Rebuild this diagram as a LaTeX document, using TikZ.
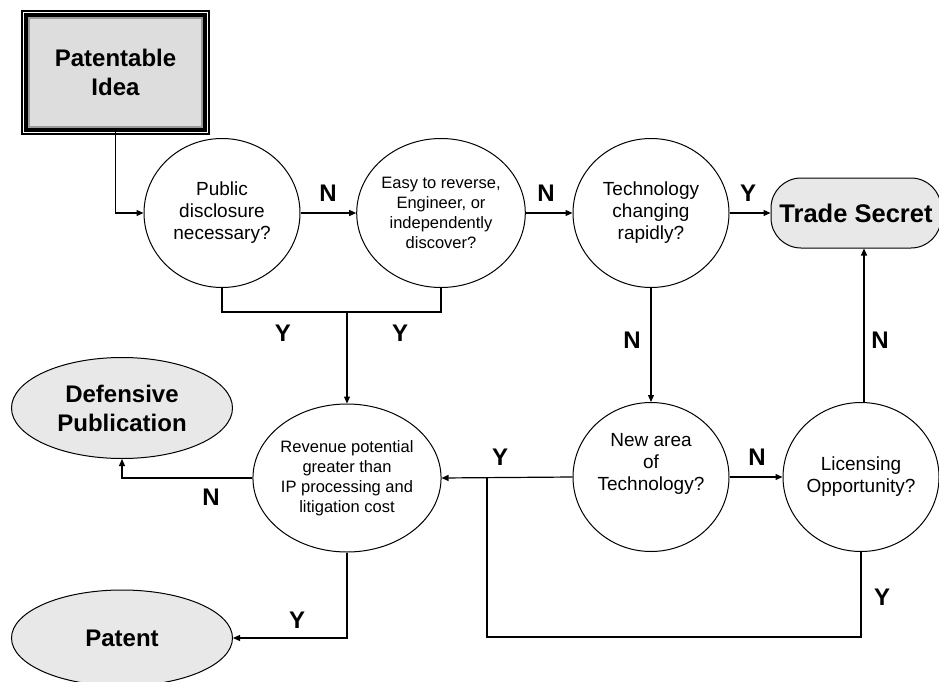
\documentclass[tikz,border=0pt]{standalone}
\usepackage{fontspec}
\setmainfont{Liberation Sans}
\usepackage{xcolor}
\definecolor{termfill}{HTML}{E8E8E8}
\definecolor{ideafill}{HTML}{DDDDDD}
\definecolor{ideaedge}{HTML}{9A9A9A}
\usepackage{tikz}
\usetikzlibrary{arrows.meta,positioning,calc,shapes.geometric}
\tikzset{
  >={Triangle[length=7pt,width=6pt]},
  dec/.style={ellipse,draw,line width=1pt,minimum width=156pt,minimum height=149pt,inner sep=0pt,align=center,font=\fontsize{19}{22}\selectfont},
  decs/.style={dec,font=\fontsize{16.5}{20}\selectfont},
  term/.style={ellipse,draw,fill=termfill,line width=1pt,minimum width=221pt,inner sep=0pt,align=center,font=\bfseries\fontsize{24}{29}\selectfont},
  secbox/.style={rectangle,rounded corners=30pt,draw,fill=termfill,line width=1pt,minimum width=170pt,minimum height=70pt,font=\bfseries\fontsize{25.5}{29}\selectfont},
  lab/.style={font=\bfseries\fontsize{24}{24}\selectfont},
  arr/.style={->,line width=1.2pt},
  ln/.style={line width=1.2pt},
}

\begin{document}
\begin{tikzpicture}[x=1pt,y=-1pt]
\useasboundingbox (0,0) rectangle (939,682);
% start box with triple frame
\node[rectangle,draw=ideaedge,fill=ideafill,line width=1.5pt,minimum width=173pt,minimum height=109pt,align=center,font=\bfseries\fontsize{24}{29}\selectfont] (idea) at (115.5,72.5) {Patentable\\Idea};
\draw[line width=3.3pt] ([xshift=-2.3pt,yshift=2.3pt]idea.north west) rectangle ([xshift=2.3pt,yshift=-2.3pt]idea.south east);
\draw[line width=2pt] ([xshift=-6.3pt,yshift=6.3pt]idea.north west) rectangle ([xshift=6.3pt,yshift=-6.3pt]idea.south east);
% decisions
\node[dec] (disc) at (222,213) {Public\\disclosure\\necessary?};
\node[decs] (easy) at (441,213) {Easy to reverse,\\Engineer, or\\independently\\discover?};
\node[dec] (tech) at (651,213) {Technology\\changing\\rapidly?};
\node[dec] (newarea) at (651,477) {New area\\of\\Technology?\\[8pt]};
\node[dec] (lic) at (861,477) {Licensing\\Opportunity?};
\node[decs,minimum width=157pt,minimum height=148pt] (rev) at (347,478) {Revenue potential\\greater than\\IP processing and\\litigation cost};
% outcomes
\node[secbox] (secret) at (856,213) {Trade Secret};
\node[term,minimum height=101pt] (defpub) at (122,408) {Defensive\\Publication};
\node[term,minimum height=96pt] (patent) at (122,638) {Patent};
% helper points
\coordinate (jn) at (347,312);
\coordinate (lq) at (487,478);
% connectors
\draw[arr] (idea.south) |- (disc.west);
\draw[arr] (disc) -- (easy);
\draw[arr] (easy) -- (tech);
\draw[arr] (tech) -- (secret);
\draw[ln] (disc.south) |- (jn) -| (easy.south);
\draw[arr] (jn) -- (rev.north);
\draw[arr] (tech.south) -- (newarea.north);
\draw[arr] ([xshift=3pt]lic.north) -- ([xshift=3pt]lic.north |- secret.south);
\draw[arr] (newarea) -- (lic);
\draw[arr] (newarea.west) -- (rev.east);
\draw[ln] (lic.south) -- ++(0,85) -| (lq);
\draw[arr] (rev.west) -| (defpub.south);
\draw[arr] (rev.south) |- (patent.east);
% branch labels
\node[lab] (n1) at (328,193) {N};
\node[lab] (n2) at (546,193) {N};
\node[lab] (y3) at (748,193) {Y};
\node[lab] (y4) at (283,333) {Y};
\node[lab] (y5) at (400,333) {Y};
\node[lab] (n6) at (632,340) {N};
\node[lab] (n7) at (880,340) {N};
\node[lab] (y8) at (500,457) {Y};
\node[lab] (n9) at (757,457) {N};
\node[lab] (n10) at (211,497) {N};
\node[lab] (y11) at (297,620) {Y};
\node[lab] (y12) at (882,597) {Y};
\end{tikzpicture}
\end{document}
